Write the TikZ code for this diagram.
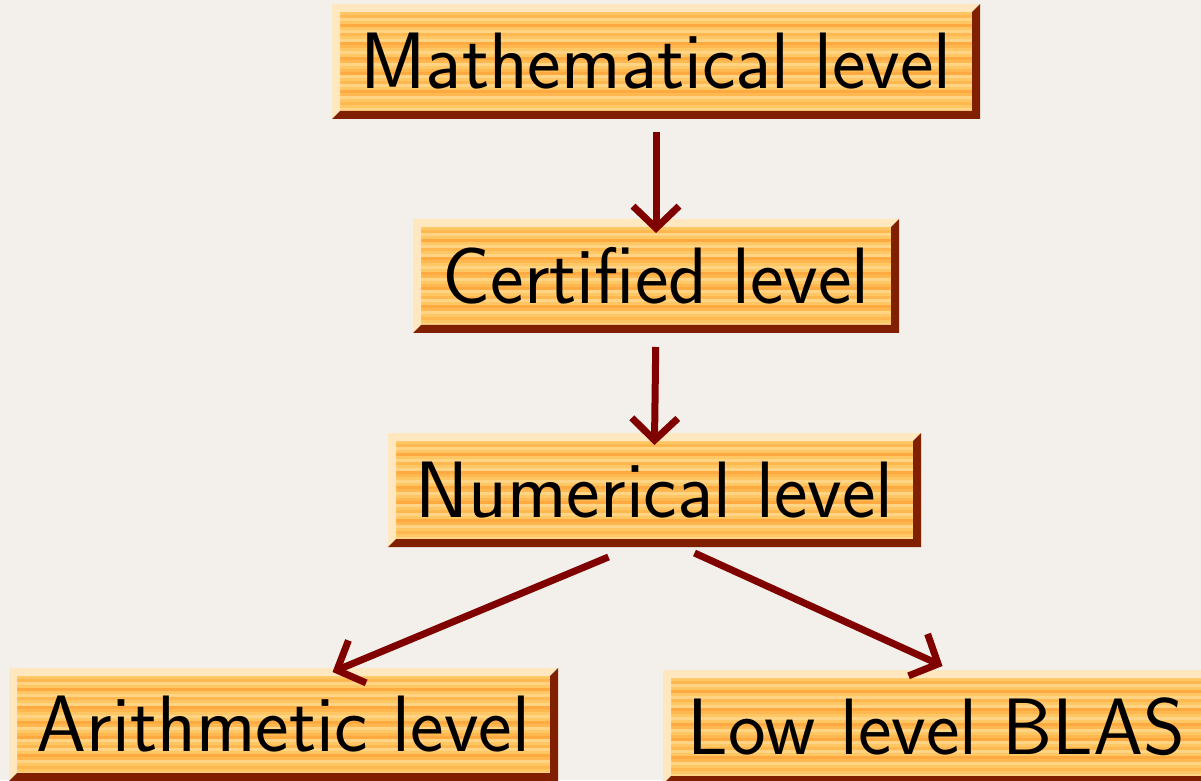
\documentclass[tikz,border=0pt]{standalone}
\usepackage{xcolor}
\usepackage{tikz}
\usetikzlibrary{arrows.meta}

\definecolor{paper}{RGB}{243,239,234}
\definecolor{maroon}{RGB}{128,0,0}
\definecolor{woodlight}{RGB}{255,232,192}
\definecolor{wooddark}{RGB}{128,32,0}
\definecolor{wa}{RGB}{255,198,100}
\definecolor{wb}{RGB}{255,184,80}
\definecolor{wc}{RGB}{255,212,132}
\definecolor{wd}{RGB}{255,170,64}

\tikzset{
    woodbox/.style={inner sep=0pt, outer sep=0pt, fill=wa,
        font=\sffamily\fontsize{80}{82}\selectfont,
        path picture={
            \foreach \k [count=\n] in {wa,wb,wc,wa,wd,wa,wc,wb,wa,wc,wd,wb,wa,wc,wa,wd,wb,wc,wa,wb,wd,wc,wa,wb,wc,wa,wd,wb,wc,wa,wb,wa,wc}
                \fill[\k] ([yshift=-\n*3pt+3pt]path picture bounding box.north west) rectangle ([yshift=-\n*3pt]path picture bounding box.north east);
        }},
    link/.style={draw=maroon, line width=7pt, -{Straight Barb[length=22pt,width=46pt]}}
}

\begin{document}
\begin{tikzpicture}[x=1pt, y=1pt]
    \fill[paper] (0,0) rectangle (1201,780);
    \useasboundingbox (0,0) rectangle (1201,780);

    \node[woodbox, minimum width=632pt, minimum height=99pt] at (656,718.5) (math) {Mathematical level};
    \node[woodbox, minimum width=470pt, minimum height=98pt] at (656,504) (cert) {Certified level};
    \node[woodbox, minimum width=517pt, minimum height=98pt] at (654.5,290) (num) {Numerical level};
    \node[woodbox, minimum width=533pt, minimum height=97pt] at (283.5,55.5) (arith) {Arithmetic level};
    \node[woodbox, minimum width=531pt, minimum height=98pt] at (936.5,53) (blas) {Low level BLAS};

    % bevelled frames
    \foreach \b in {math,cert,num,arith,blas}{
        \fill[woodlight] ([shift={(-8pt,8pt)}]\b.north west) -- ([shift={(8pt,8pt)}]\b.north east) -- (\b.north east) -- (\b.north west) -- (\b.south west) -- ([shift={(-8pt,-8pt)}]\b.south west) -- cycle;
        \fill[wooddark] ([shift={(-8pt,-8pt)}]\b.south west) -- ([shift={(8pt,-8pt)}]\b.south east) -- ([shift={(8pt,8pt)}]\b.north east) -- (\b.north east) -- (\b.south east) -- (\b.south west) -- cycle;
    }

    \draw[link, shorten <=21pt, shorten >=-6pt] (math.south) -- (cert.north);
    \draw[link, shorten <=22pt, shorten >=-4pt] (cert.south) -- (num.north);
    \draw[link] ([xshift=-46pt,yshift=-18pt]num.south) -- ([xshift=49pt,yshift=4pt]arith.north);
    \draw[link] ([xshift=40pt,yshift=-14pt]num.south) -- ([xshift=6pt,yshift=12pt]blas.north);
\end{tikzpicture}
\end{document}
